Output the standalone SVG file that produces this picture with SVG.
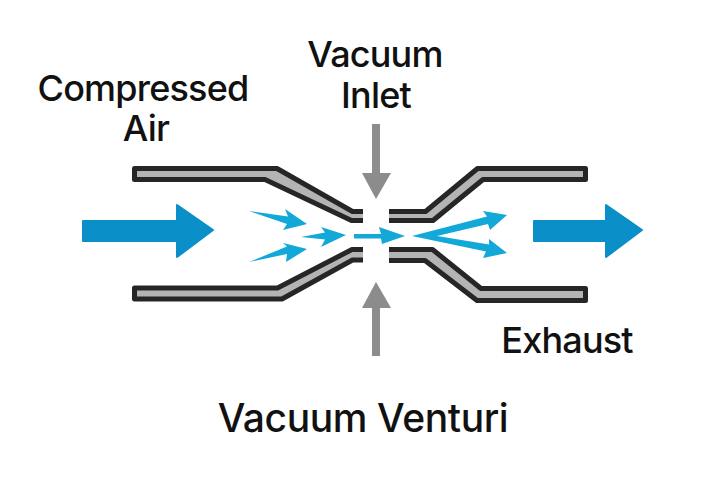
<svg xmlns="http://www.w3.org/2000/svg" width="725" height="484" viewBox="0 0 725 484">
<style>
.wall{fill:#b4b4b4;stroke:none}
.edge{fill:none;stroke:#262626;stroke-width:5;stroke-linejoin:round;stroke-linecap:butt}
.big{fill:#0b8fc8;stroke:#0b8fc8;stroke-width:2;stroke-linejoin:round}
.small{fill:#12a8d8}
.in{fill:#8c8c8c}
text{font-family:"Inter","Liberation Sans",sans-serif;font-weight:500;fill:#111;text-anchor:middle}
.lab{font-size:36px;letter-spacing:-0.800px}
.title{font-size:39px;letter-spacing:-0.400px}
</style>
<rect width="725" height="484" fill="#fff"/>
<g id="wall-top-left">
<path class="wall" d="M135,168.500H277L352.500,211.500H363V220.500H351.500L265,179.500H135Z"/>
<path class="edge" d="M363,211.500H352.500L277,168.500H134.500V179.500H265L351.500,220.500H363"/>
</g>
<g id="wall-bottom-left">
<path class="wall" d="M135,288H277.500L352,249.500H363V260H352.500L282,299H135Z"/>
<path class="edge" d="M363,249.500H352L277.500,288H134.500V299H282L352.500,260H363"/>
</g>
<g id="wall-top-right">
<path class="wall" d="M389,211.500H425.500L477.500,168.500H585.500V179.500H483L433,220.500H389Z"/>
<path class="edge" d="M389,211.500H425.500L477.500,168.500H585.500V179.500H483L433,220.500H389"/>
</g>
<g id="wall-bottom-right">
<path class="wall" d="M389,249.500H432.500L481,288.500H585.500V300.500H477L425,260.500H389Z"/>
<path class="edge" d="M389,249.500H432.500L481,288.500H585.500V300.500H477L425,260.500H389"/>
</g>
<g id="connectors">
<path id="air-in" class="big" d="M83,221H177V205L213,230L177,257V241H83Z"/>
<path id="air-out" class="big" d="M534,221H606V205L642,230L606,257V241H534Z"/>
<path id="vacuum-top" class="in" d="M372,124H380V173H391L376,199L362,173H372Z"/>
<path id="vacuum-bottom" class="in" d="M372,356H380V308H391L376,282L362,308H372Z"/>
<path class="small" d="M249,211L288,216.500L285,209L307,224L283,230L287,224Z"/>
<path class="small" d="M301,237L325,232.500L321,227L346,235L321,247L325,239.500Z"/>
<path class="small" d="M249,262L287,246.500L283,243L307,249L286,262L287,254Z"/>
<path class="small" d="M354,234H381L379,227L405,236L382,244L381,238.500H354Z"/>
<path class="small" d="M412,236L487,216.500L483,211L507,215L490,230L488,224L437,236L489,244.500L489,239L507,253L483,258L486,251.500Z"/>
</g>
<g id="label-compressed-air"><text class="lab" x="143" y="101">Compressed</text><text class="lab" x="146" y="141">Air</text></g>
<g id="label-vacuum-inlet"><text class="lab" x="375" y="67">Vacuum</text><text class="lab" x="376" y="107.500">Inlet</text></g>
<g id="label-exhaust"><text class="lab" x="567" y="353">Exhaust</text></g>
<g id="label-title"><text class="title" x="363" y="432">Vacuum Venturi</text></g>
</svg>
